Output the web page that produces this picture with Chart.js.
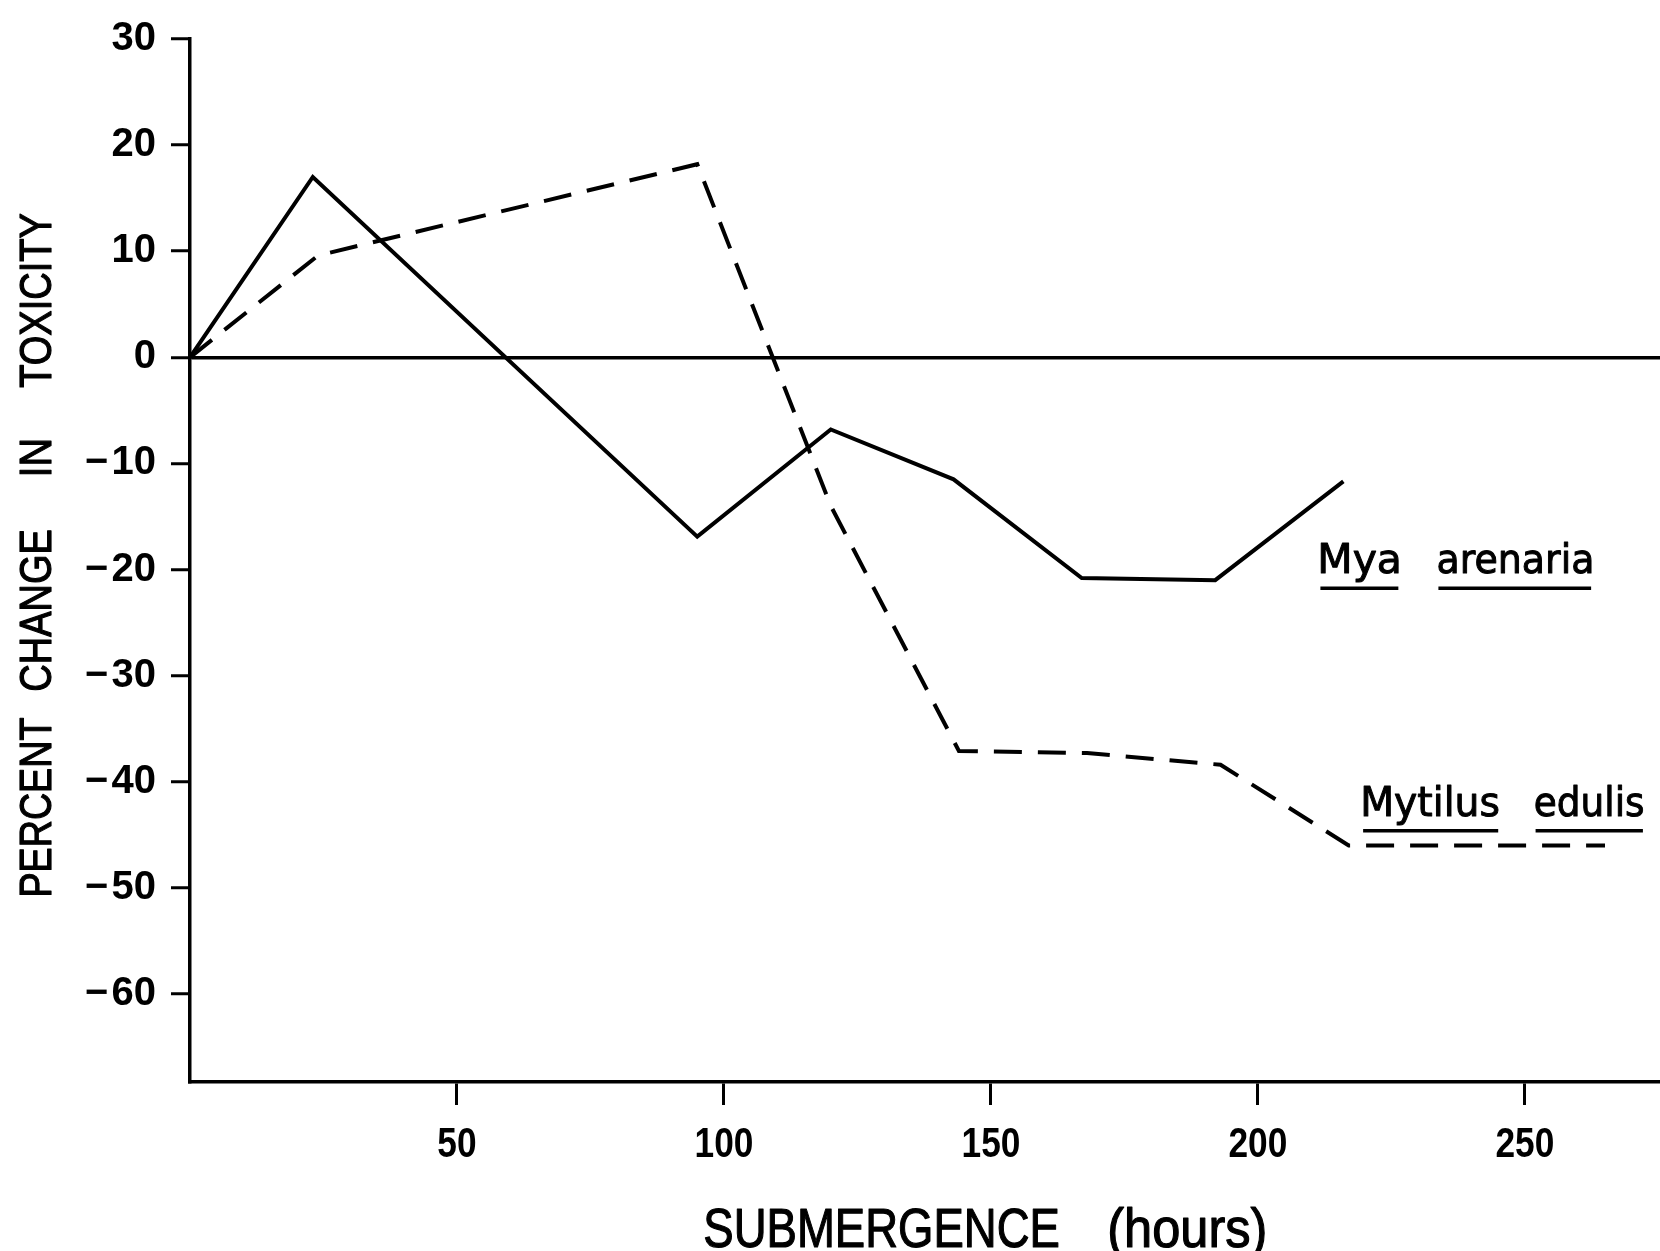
<!DOCTYPE html>
<html>
<head>
<meta charset="utf-8">
<title>Percent change in toxicity during submergence</title>
<script src="https://cdn.jsdelivr.net/npm/chart.js@4.4.1/dist/chart.umd.min.js"></script>
<style>
  html, body { margin: 0; padding: 0; background: #fff; }
  #wrap { position: relative; width: 1660px; height: 1251px; }
</style>
</head>
<body>
<div id="wrap"><canvas id="chart"></canvas></div>
<script>
// readings (hours of submergence, % change), taken off the figure
const myaHours = [0, 23, 95, 120, 143, 167, 192, 216]
const myaChange = [0, 17.0, -16.9, -6.8, -11.5, -20.8, -21.0, -11.7]
const mytilusHours = [0, 24, 95, 120, 144, 168, 193, 217, 265]
const mytilusChange = [0, 9.6, 18.2, -14.0, -37.1, -37.3, -38.4, -46.0, -46.0]

const xTicks = [50, 100, 150, 200, 250]
const yTicks = [30, 20, 10, 0, -10, -20, -30, -40, -50, -60]

const xTitleWords = ["SUBMERGENCE", "(hours)"]
const yTitleWords = ["PERCENT", "CHANGE", "IN", "TOXICITY"]
const myaLabel = ["Mya", "arenaria"]
const mytilusLabel = ["Mytilus", "edulis"]

// axis extents
const X_MIN = 0, X_MAX = 275.3
const Y_MIN = -68.3, Y_MAX = 30

// where the text goes (pixels for axis titles, data units for species names)
const layout = {
  xTicks: { baseline: 1157, size: 42, squeeze: 0.84 },
  xTitle: { baseline: 1247, size: 56, spans: [[705, 1058], [1110, 1265]] },
  yTitle: { baselineX: 51, size: 45, spans: [[895, 718], [690, 530], [474, 441], [387, 213]] },
  myaSpot: { y: -20.35, spans: [[211.7, 226.3], [233.8, 262.4]] },
  mytilusSpot: { y: -43.2, spans: [[219.7, 245.0], [252.0, 272.1]] }
}

const TITLE_FONT = "'Liberation Sans Narrow', 'Liberation Sans', Arial, sans-serif"
const LABEL_FONT = "'DejaVu Sans', 'Liberation Sans', sans-serif"

// draw text so its ink runs exactly from x0 to x1 on the given baseline
function fitText(ctx, text, x0, x1, baseline, heavy) {
  ctx.save()
  ctx.textAlign = "left"
  ctx.textBaseline = "alphabetic"
  const m = ctx.measureText(text)
  const inkW = m.actualBoundingBoxLeft + m.actualBoundingBoxRight
  const sx = (x1 - x0) / inkW
  ctx.translate(x0, baseline)
  ctx.scale(sx, 1)
  ctx.fillText(text, m.actualBoundingBoxLeft, 0)
  if (heavy) {
    ctx.lineWidth = heavy
    ctx.lineJoin = "round"
    ctx.strokeText(text, m.actualBoundingBoxLeft, 0)
  }
  ctx.restore()
}

const textPlugin = {
  id: "figureText",
  afterDraw(chart) {
    const ctx = chart.ctx
    const xs = chart.scales.x
    const ys = chart.scales.y
    ctx.save()
    ctx.fillStyle = "#000"
    ctx.strokeStyle = "#000"

    // x tick labels, condensed, placed on the scale's own ticks
    ctx.font = `bold ${layout.xTicks.size}px 'Liberation Sans', Arial, sans-serif`
    xs.ticks.forEach(t => {
      const px = xs.getPixelForValue(t.value)
      ctx.save()
      ctx.textAlign = "center"
      ctx.textBaseline = "alphabetic"
      ctx.translate(px, layout.xTicks.baseline)
      ctx.scale(layout.xTicks.squeeze, 1)
      ctx.fillText(String(t.value), 0, 0)
      ctx.restore()
    })

    // x title
    ctx.font = `${layout.xTitle.size}px ${TITLE_FONT}`
    xTitleWords.forEach((w, i) => {
      const [a, b] = layout.xTitle.spans[i]
      fitText(ctx, w, a, b, layout.xTitle.baseline, 1.2)
    })

    // y title, rotated
    ctx.font = `${layout.yTitle.size}px ${TITLE_FONT}`
    yTitleWords.forEach((w, i) => {
      const [bottom, top] = layout.yTitle.spans[i]
      ctx.save()
      ctx.translate(layout.yTitle.baselineX, bottom)
      ctx.rotate(-Math.PI / 2)
      fitText(ctx, w, 0, bottom - top, 0, 1.2)
      ctx.restore()
    })

    // species names, underlined
    ctx.font = `40px ${LABEL_FONT}`
    const species = [[myaLabel, layout.myaSpot], [mytilusLabel, layout.mytilusSpot]]
    species.forEach(([words, spot]) => {
      const base = ys.getPixelForValue(spot.y)
      words.forEach((w, i) => {
        const a = xs.getPixelForValue(spot.spans[i][0])
        const b = xs.getPixelForValue(spot.spans[i][1])
        fitText(ctx, w, a, b, base, 1)
        ctx.lineWidth = 3.5
        ctx.beginPath()
        ctx.moveTo(a, base + 15)
        ctx.lineTo(b, base + 15)
        ctx.stroke()
      })
    })
    ctx.restore()
  }
}

const ctx = document.getElementById("chart").getContext("2d")

new Chart(ctx, {
  type: "line",
  data: {
    datasets: [
      {
        label: "Mya arenaria",
        data: myaHours.map((h, i) => ({ x: h, y: myaChange[i] })),
        borderColor: "#000",
        borderWidth: 4,
        pointRadius: 0,
        tension: 0,
        fill: false
      },
      {
        label: "Mytilus edulis",
        data: mytilusHours.map((h, i) => ({ x: h, y: mytilusChange[i] })),
        borderColor: "#000",
        borderWidth: 4,
        borderDash: [28, 16],
        pointRadius: 0,
        tension: 0,
        fill: false
      }
    ]
  },
  options: {
    responsive: true,
    maintainAspectRatio: false,
    animation: false,
    devicePixelRatio: 1,
    layout: { padding: { top: 29, right: 0, bottom: 0, left: 0 } },
    plugins: {
      legend: { display: false },
      tooltip: { enabled: false }
    },
    scales: {
      x: {
        type: "linear",
        min: X_MIN,
        max: X_MAX,
        afterBuildTicks: s => { s.ticks = xTicks.map(v => ({ value: v })) },
        afterFit: s => { s.height = 169 },
        border: { display: true, color: "#000", width: 3.5 },
        grid: {
          drawOnChartArea: false,
          drawTicks: true,
          tickLength: 23,
          tickWidth: 3,
          tickColor: "#000"
        },
        ticks: { display: false }
      },
      y: {
        type: "linear",
        min: Y_MIN,
        max: Y_MAX,
        afterBuildTicks: s => { s.ticks = yTicks.map(v => ({ value: v })) },
        afterFit: s => { s.width = 190 },
        border: { display: true, color: "#000", width: 3.5 },
        grid: {
          drawOnChartArea: true,
          color: c => (c.tick && c.tick.value === 0 ? "#000" : "rgba(0,0,0,0)"),
          lineWidth: 3.5,
          drawTicks: true,
          tickLength: 19,
          tickWidth: 3,
          tickColor: "#000"
        },
        ticks: {
          color: "#000",
          padding: 15,
          font: { family: "'Liberation Sans', Arial, sans-serif", size: 40, weight: "bold" },
          callback: v => (v < 0 ? "\u2212\u200a" + Math.abs(v) : String(v))
        }
      }
    }
  },
  plugins: [textPlugin]
})
</script>
</body>
</html>
